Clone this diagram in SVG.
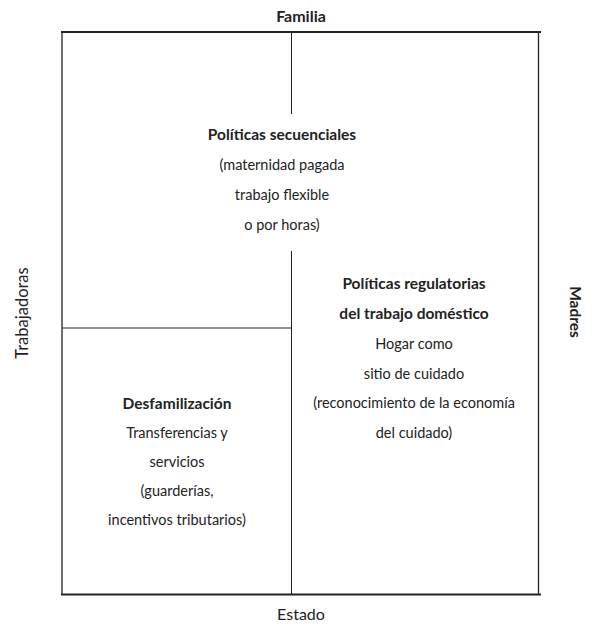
<svg xmlns="http://www.w3.org/2000/svg" width="600" height="632" viewBox="0 0 600 632">
<style>
text{font-family:"Lato","Liberation Sans",sans-serif;fill:#222;text-anchor:middle;font-size:14.5px}
.b{font-weight:bold;font-size:15.5px}
.ax{font-size:16px}
.ln{stroke:#222;fill:none}
</style>
<rect width="600" height="632" fill="#fff"/>
<g id="connectors">
<line class="ln" x1="61" y1="32" x2="541" y2="32" stroke-width="2"/>
<line class="ln" x1="61" y1="594.5" x2="541" y2="594.5" stroke-width="2"/>
<line class="ln" x1="62" y1="32" x2="62" y2="594" stroke-width="1.3"/>
<line class="ln" x1="538.5" y1="32" x2="538.5" y2="594" stroke-width="1.3"/>
<line class="ln" x1="291.5" y1="32" x2="291.5" y2="114" stroke-width="1"/>
<line class="ln" x1="291.5" y1="251" x2="291.5" y2="594" stroke-width="1"/>
<line class="ln" x1="62" y1="328" x2="291.5" y2="328" stroke-width="1"/>
</g>
<g id="axis-familia"><text class="b ax" x="301" y="22">Familia</text></g>
<g id="axis-estado"><text class="ax" x="301" y="620">Estado</text></g>
<g id="axis-trabajadoras"><text class="ax" style="font-size:16.5px" transform="translate(28,313) rotate(-90)">Trabajadoras</text></g>
<g id="axis-madres"><text class="b" transform="translate(570,312) rotate(90)">Madres</text></g>
<g id="node-secuenciales">
<text class="b" x="282" y="140">Políticas secuenciales</text>
<text x="282" y="170">(maternidad pagada</text>
<text x="282" y="200">trabajo flexible</text>
<text x="282" y="230">o por horas)</text>
</g>
<g id="node-regulatorias">
<text class="b" x="414" y="289">Políticas regulatorias</text>
<text class="b" x="414" y="319">del trabajo doméstico</text>
<text x="414" y="349">Hogar como</text>
<text x="414" y="379">sitio de cuidado</text>
<text x="414" y="408">(reconocimiento de la economía</text>
<text x="414" y="438">del cuidado)</text>
</g>
<g id="node-desfamilizacion">
<text class="b" x="177" y="409">Desfamilización</text>
<text x="177" y="438">Transferencias y</text>
<text x="177" y="467">servicios</text>
<text x="177" y="496">(guarderías,</text>
<text x="177" y="525">incentivos tributarios)</text>
</g>
</svg>
